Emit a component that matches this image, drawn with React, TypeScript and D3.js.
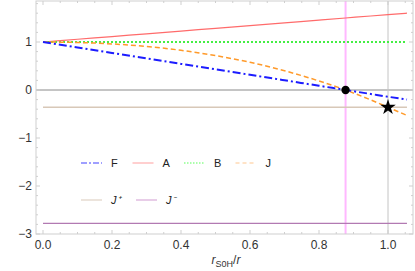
import React, { useEffect, useRef } from 'react';
import * as d3 from 'd3';

// sample positions along r_S0H/r
const xs = [0, 0.1, 0.2, 0.3, 0.4, 0.5, 0.6, 0.7, 0.8, 0.877, 0.95, 1.0, 1.055];

const seriesF = [1, 0.886, 0.772, 0.658, 0.544, 0.43, 0.316, 0.202, 0.088, 0, -0.083, -0.14, -0.2];
const seriesA = [1, 1.057, 1.114, 1.171, 1.228, 1.285, 1.342, 1.399, 1.456, 1.5, 1.542, 1.57, 1.6];
const seriesB = [1, 1, 1, 1, 1, 1, 1, 1, 1, 1, 1, 1, 1];
const seriesJ = [1, 0.99, 0.96, 0.907, 0.827, 0.717, 0.577, 0.401, 0.188, 0, -0.207, -0.36, -0.53];

const jPlus = -0.36;
const jMinus = -2.78;
const xRoot = 0.877;
const xStar = 1.0;

const xTicks = [0, 0.2, 0.4, 0.6, 0.8, 1.0];
const yTicks = [-3, -2, -1, 0, 1];

const legendRow1 = [
  { name: 'F', color: '#8080ff', dash: '6,2,2,2', width: 1.5, italic: false },
  { name: 'A', color: '#ffb0b0', dash: null, width: 1.2, italic: false },
  { name: 'B', color: '#90ff90', dash: '1.5,1.5', width: 1.5, italic: false },
  { name: 'J', color: '#ffc890', dash: '4,3', width: 1.2, italic: false },
];
const legendRow2 = [
  { name: 'J⁺', color: '#ece4dc', dash: null, width: 2, italic: true },
  { name: 'J⁻', color: '#e8cde8', dash: null, width: 2, italic: true },
];

const App: React.FC = () => {
  const svgRef = useRef<SVGSVGElement>(null);

  useEffect(() => {
    if (!svgRef.current) return;
    const svg = d3.select(svgRef.current);
    svg.selectAll('*').remove();

    const left = 36;
    const right = 413;
    const top = 1;
    const bottom = 234;
    const font = "'Liberation Sans', Arial, sans-serif";

    const x = d3.scaleLinear().domain([0, 1]).range([43, 388]);
    const y = d3.scaleLinear().domain([-3, 1]).range([234, 42]);

    const line = d3
      .line<number>()
      .x((d, i) => x(xs[i]))
      .y((d) => y(d))
      .curve(d3.curveMonotoneX);

    // reference lines
    svg.append('line')
      .attr('x1', left).attr('x2', right)
      .attr('y1', y(0)).attr('y2', y(0))
      .attr('stroke', '#8a8a8a').attr('stroke-width', 1);

    svg.append('line')
      .attr('x1', x(xRoot)).attr('x2', x(xRoot))
      .attr('y1', top).attr('y2', bottom)
      .attr('stroke', '#ffb8ff').attr('stroke-width', 2);

    svg.append('line')
      .attr('x1', x(xStar)).attr('x2', x(xStar))
      .attr('y1', top).attr('y2', bottom)
      .attr('stroke', '#c4c4c4').attr('stroke-width', 1);

    svg.append('line')
      .attr('x1', x(0)).attr('x2', x(1.055))
      .attr('y1', y(jPlus)).attr('y2', y(jPlus))
      .attr('stroke', '#d8c8b8').attr('stroke-width', 1.5);

    svg.append('line')
      .attr('x1', x(0)).attr('x2', x(1.055))
      .attr('y1', y(jMinus)).attr('y2', y(jMinus))
      .attr('stroke', '#b27ab2').attr('stroke-width', 1.2);

    // curves
    const curves = [
      { data: seriesA, color: '#ff6b6b', dash: null, width: 1.2 },
      { data: seriesB, color: '#44ee44', dash: '2,2', width: 2 },
      { data: seriesJ, color: '#ff9a2a', dash: '5,3', width: 1.5 },
      { data: seriesF, color: '#1c1cff', dash: '8,3,2,3', width: 2 },
    ];
    curves.forEach((c) => {
      svg.append('path')
        .attr('d', line(c.data))
        .attr('fill', 'none')
        .attr('stroke', c.color)
        .attr('stroke-width', c.width)
        .attr('stroke-dasharray', c.dash);
    });

    // markers
    svg.append('circle')
      .attr('cx', x(xRoot)).attr('cy', y(0)).attr('r', 4.2)
      .attr('fill', '#000');

    svg.append('path')
      .attr('d', d3.symbol().type(d3.symbolStar).size(75)())
      .attr('transform', `translate(${x(xStar)},${y(jPlus)})`)
      .attr('fill', '#000');

    // frame
    const frame = svg.append('g').attr('stroke', '#cfcfcf').attr('stroke-width', 1);
    frame.append('rect')
      .attr('x', left).attr('y', top)
      .attr('width', right - left).attr('height', bottom - top)
      .attr('fill', 'none');

    const xMinor = d3.range(0, 1.07, 0.05);
    xMinor.forEach((v, i) => {
      const len = i % 4 === 0 ? 4 : 2;
      frame.append('line').attr('x1', x(v)).attr('x2', x(v)).attr('y1', bottom).attr('y2', bottom - len);
      frame.append('line').attr('x1', x(v)).attr('x2', x(v)).attr('y1', top).attr('y2', top + len);
    });
    const yMinor = d3.range(-3, 1.85, 0.2);
    yMinor.forEach((v, i) => {
      const len = i % 5 === 0 ? 4 : 2;
      frame.append('line').attr('x1', left).attr('x2', left + len).attr('y1', y(v)).attr('y2', y(v));
      frame.append('line').attr('x1', right).attr('x2', right - len).attr('y1', y(v)).attr('y2', y(v));
    });

    // tick labels
    svg.selectAll('text.xt')
      .data(xTicks)
      .enter()
      .append('text')
      .attr('x', (d) => x(d))
      .attr('y', 249)
      .attr('text-anchor', 'middle')
      .style('font-family', font)
      .style('font-size', '12px')
      .attr('fill', '#333')
      .text((d) => d.toFixed(1));

    svg.selectAll('text.yt')
      .data(yTicks)
      .enter()
      .append('text')
      .attr('x', 32)
      .attr('y', (d) => y(d) + 4)
      .attr('text-anchor', 'end')
      .style('font-family', font)
      .style('font-size', '12px')
      .attr('fill', '#333')
      .text((d) => (d < 0 ? `\u2212${-d}` : `${d}`));

    // axis title
    const title = svg.append('text')
      .attr('x', 226)
      .attr('y', 264)
      .attr('text-anchor', 'middle')
      .style('font-family', font)
      .style('font-size', '12px')
      .attr('fill', '#333');
    title.append('tspan').style('font-style', 'italic').text('r');
    title.append('tspan').attr('dy', 2.5).style('font-size', '9px').text('S0H');
    title.append('tspan').attr('dy', -2.5).text('/');
    title.append('tspan').style('font-style', 'italic').text('r');

    // legend
    const drawLegend = (items: typeof legendRow1, rowY: number, startX: number, step: number) => {
      items.forEach((it, i) => {
        const gx = startX + i * step;
        svg.append('line')
          .attr('x1', gx).attr('x2', gx + 21)
          .attr('y1', rowY).attr('y2', rowY)
          .attr('stroke', it.color)
          .attr('stroke-width', it.width)
          .attr('stroke-dasharray', it.dash);
        svg.append('text')
          .attr('x', gx + 30)
          .attr('y', rowY + 4)
          .style('font-family', font)
          .style('font-size', '11px')
          .style('font-style', it.italic ? 'italic' : 'normal')
          .attr('fill', '#222')
          .text(it.name);
      });
    };
    drawLegend(legendRow1, 163, 81, 51.5);
    drawLegend(legendRow2, 200, 81, 55);
  }, []);

  return (
    <div style={{ position: 'fixed', left: 0, top: 0 }}>
      <svg ref={svgRef} width={415} height={271} style={{ display: 'block', background: '#fff' }} />
    </div>
  );
};

export default App;
